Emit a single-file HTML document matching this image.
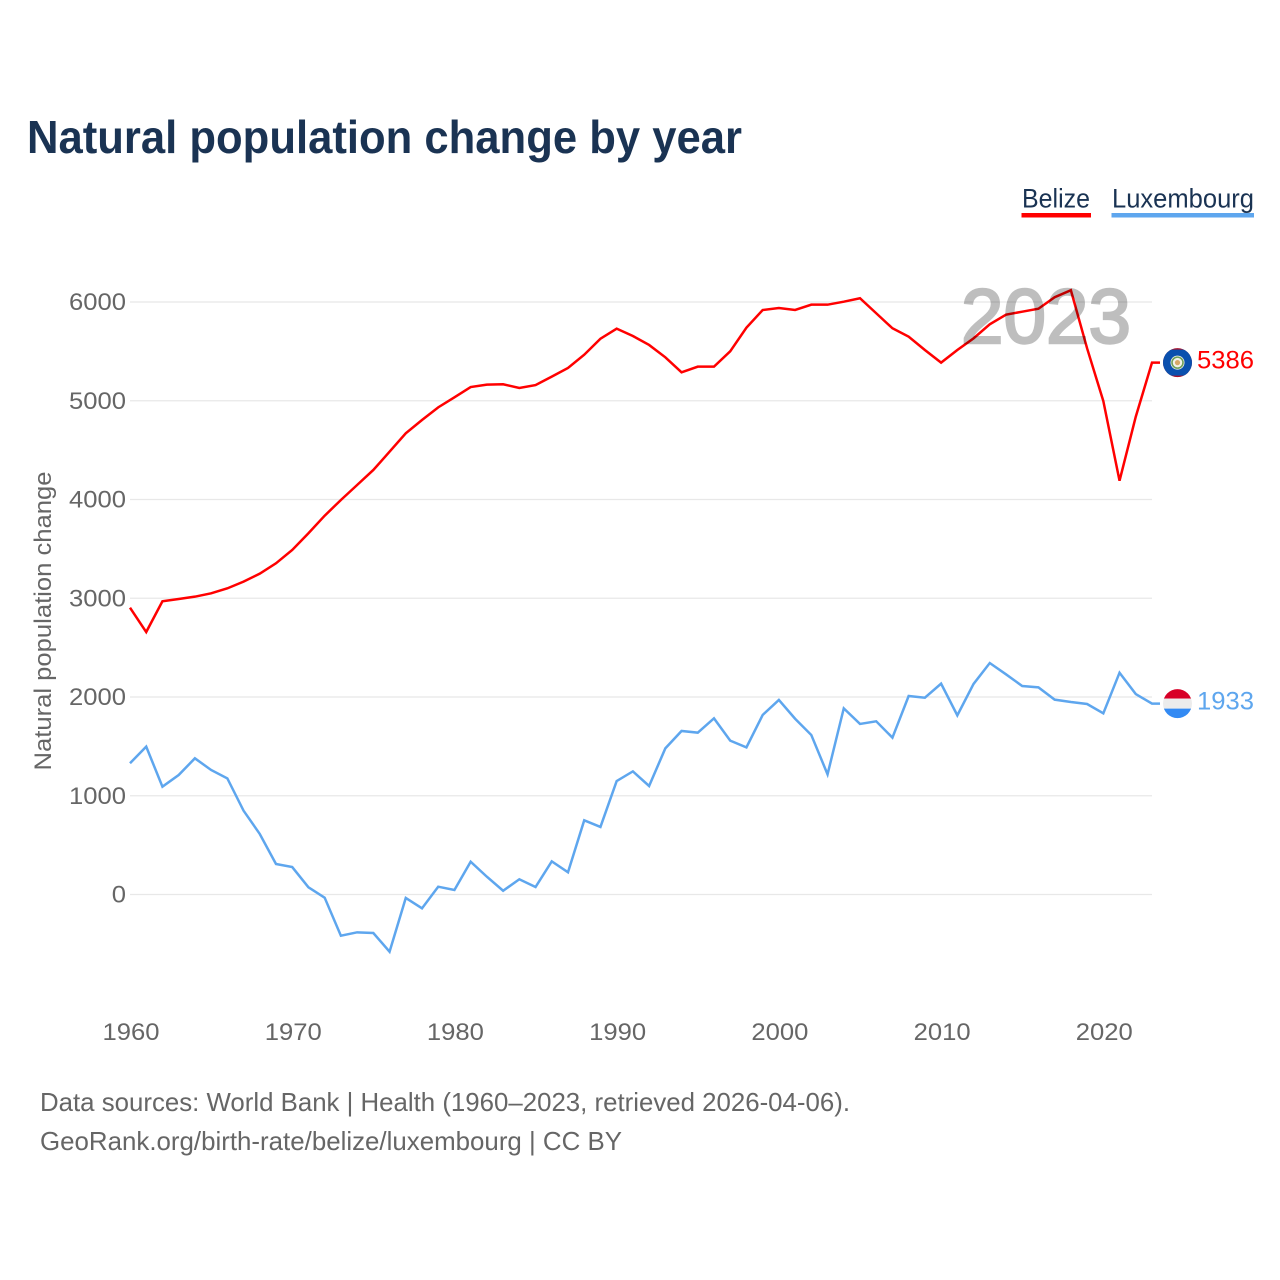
<!DOCTYPE html>
<html lang="en">
<head>
<meta charset="utf-8">
<title>Natural population change by year</title>
<style>
html,body{margin:0;padding:0;background:#fff;}
svg{display:block;font-family:"Liberation Sans",sans-serif;}
</style>
</head>
<body>
<svg id="chart" xmlns="http://www.w3.org/2000/svg" width="1280" height="1280" viewBox="0 0 1280 1280">
  <rect x="0" y="0" width="1280" height="1280" fill="#fff"/>
  <defs>
    <clipPath id="clip-belize"><circle id="clip-belize-circle" cx="1177.5" cy="362" r="14.5"/></clipPath>
    <clipPath id="clip-lux"><circle id="clip-lux-circle" cx="1177.5" cy="703" r="14.5"/></clipPath>
  </defs>
  <text x="27" y="153" font-size="46" font-weight="700" fill="#1a3353" textLength="715" lengthAdjust="spacingAndGlyphs">Natural population change by year</text>

  <g>
    <text x="1022" y="207.5" font-size="27" fill="#1a3353" textLength="68" lengthAdjust="spacingAndGlyphs">Belize</text>
    <rect x="1021.5" y="213" width="69.5" height="4.5" fill="#ff0000"/>
  </g>
  <g>
    <text x="1112" y="207.5" font-size="27" fill="#1a3353" textLength="142" lengthAdjust="spacingAndGlyphs">Luxembourg</text>
    <rect x="1111.5" y="213" width="142.5" height="4.5" fill="#5ea6ee"/>
  </g>

  <g id="grid"></g>
  <g id="y-ticks"></g>
  <g id="x-ticks"></g>
  <text transform="translate(51,621) rotate(-90)" text-anchor="middle" font-size="24" fill="#666" textLength="299" lengthAdjust="spacingAndGlyphs">Natural population change</text>
  <g id="series"></g>
  <text id="year-label" x="961" y="343" font-size="77" font-weight="400" fill="#000" stroke="#000" stroke-width="2.4" opacity="0.25" textLength="170" lengthAdjust="spacingAndGlyphs"></text>

  <g id="flag-belize" clip-path="url(#clip-belize)"></g>
  <g id="flag-lux" clip-path="url(#clip-lux)"></g>
  <text id="value-belize" x="1197" font-size="25" fill="#ff0000" textLength="57" lengthAdjust="spacingAndGlyphs"></text>
  <text id="value-lux" x="1197" font-size="25" fill="#5ea6ee" textLength="57" lengthAdjust="spacingAndGlyphs"></text>

  <text x="40" y="1111" font-size="26" fill="#666" textLength="810" lengthAdjust="spacingAndGlyphs">Data sources: World Bank | Health (1960–2023, retrieved 2026-04-06).</text>
  <text x="40" y="1150" font-size="26" fill="#666" textLength="582" lengthAdjust="spacingAndGlyphs">GeoRank.org/birth-rate/belize/luxembourg | CC BY</text>
</svg>
<script>
const startYear = 1960;
const xTickLabels = [1960, 1970, 1980, 1990, 2000, 2010, 2020];
const yTickLabels = [0, 1000, 2000, 3000, 4000, 5000, 6000];
const belizeValues = [2904,2658,2969,2992,3016,3050,3100,3168,3249,3354,3489,3658,3836,3995,4147,4299,4484,4670,4805,4933,5035,5139,5163,5167,5129,5159,5244,5332,5466,5628,5730,5656,5565,5440,5288,5345,5345,5501,5740,5919,5939,5919,5973,5973,6003,6038,5886,5734,5649,5514,5386,5514,5632,5774,5872,5902,5932,6048,6119,5531,4997,4190,4838,5386];
const luxembourgValues = [1329,1497,1092,1210,1379,1261,1176,849,613,309,278,73,-32,-417,-383,-390,-579,-35,-140,79,46,332,180,38,154,76,336,225,751,684,1149,1247,1099,1480,1656,1639,1784,1558,1490,1818,1970,1780,1615,1217,1885,1727,1754,1588,2010,1993,2135,1814,2132,2344,2230,2111,2098,1973,1949,1929,1835,2246,2030,1933];

const NS = 'http://www.w3.org/2000/svg';
function xScale(year) { return 130 + (year - startYear) * 16.222; }
function yScale(value) { return 894.5 - value * 0.09875; }
function make(tag, attrs, parent) {
  const el = document.createElementNS(NS, tag);
  for (const k in attrs) el.setAttribute(k, attrs[k]);
  parent.appendChild(el);
  return el;
}

const grid = document.getElementById('grid');
const yTicks = document.getElementById('y-ticks');
yTickLabels.forEach(function (v) {
  const line = make('line', {x1: 130, x2: 1152, y1: yScale(v), y2: yScale(v), stroke: '#e8e8e8', 'stroke-width': 1.2}, grid);
  
  
  const text = String(v);
  const t = make('text', {x: 126, y: yScale(v) + 8, 'text-anchor': 'end', 'font-size': 24, fill: '#666', textLength: text.length * 14.25, lengthAdjust: 'spacingAndGlyphs'}, yTicks);
  
  
  t.textContent = text;
});

const xTicks = document.getElementById('x-ticks');
xTickLabels.forEach(function (y) {
  const t = make('text', {x: xScale(y) + 1, y: 1040, 'text-anchor': 'middle', 'font-size': 24, fill: '#666', textLength: 57, lengthAdjust: 'spacingAndGlyphs'}, xTicks);
  
  
  t.textContent = y;
});

const series = document.getElementById('series');
function pointsFor(values) {
  const pts = values.map(function (v, i) { return xScale(startYear + i).toFixed(2) + ',' + yScale(v).toFixed(2); });
  const last = values[values.length - 1];
  pts.push('1160,' + yScale(last).toFixed(2));
  return pts.join(' ');
}
const lineBelize = make('polyline', {points: pointsFor(belizeValues), fill: 'none', stroke: '#ff0000', 'stroke-width': 2.5, 'stroke-linejoin': 'miter'}, series);


const lineLux = make('polyline', {points: pointsFor(luxembourgValues), fill: 'none', stroke: '#5ea6ee', 'stroke-width': 2.5, 'stroke-linejoin': 'miter'}, series);



const lastBelize = belizeValues[belizeValues.length - 1];
const lastLux = luxembourgValues[luxembourgValues.length - 1];
const by = yScale(lastBelize);
const ly = yScale(lastLux);
document.getElementById('year-label').textContent = startYear + belizeValues.length - 1;

const vb = document.getElementById('value-belize');
vb.setAttribute('y', by + 6);
vb.textContent = lastBelize;
const vl = document.getElementById('value-lux');
vl.setAttribute('y', ly + 6);
vl.textContent = lastLux;

document.getElementById('clip-belize-circle').setAttribute('cy', by);
document.getElementById('clip-lux-circle').setAttribute('cy', ly);

const fb = document.getElementById('flag-belize');
make('rect', {x: 1162, y: by - 15, width: 31, height: 30, fill: '#a8102a'}, fb);
make('rect', {x: 1162, y: by - 13, width: 31, height: 26, fill: '#0a50ae'}, fb);
make('circle', {cx: 1177.5, cy: by, r: 7, fill: '#f2f2ea'}, fb);
make('circle', {cx: 1177.5, cy: by, r: 5.5, fill: 'none', stroke: '#6f9f58', 'stroke-width': 1.6}, fb);
make('circle', {cx: 1177.5, cy: by, r: 2.6, fill: '#d8a868'}, fb);

const fl = document.getElementById('flag-lux');
make('rect', {x: 1162, y: ly - 15, width: 31, height: 10, fill: '#d80027'}, fl);
make('rect', {x: 1162, y: ly - 5, width: 31, height: 10, fill: '#ececec'}, fl);
make('rect', {x: 1162, y: ly + 5, width: 31, height: 10, fill: '#338af3'}, fl);
</script>
</body>
</html>
